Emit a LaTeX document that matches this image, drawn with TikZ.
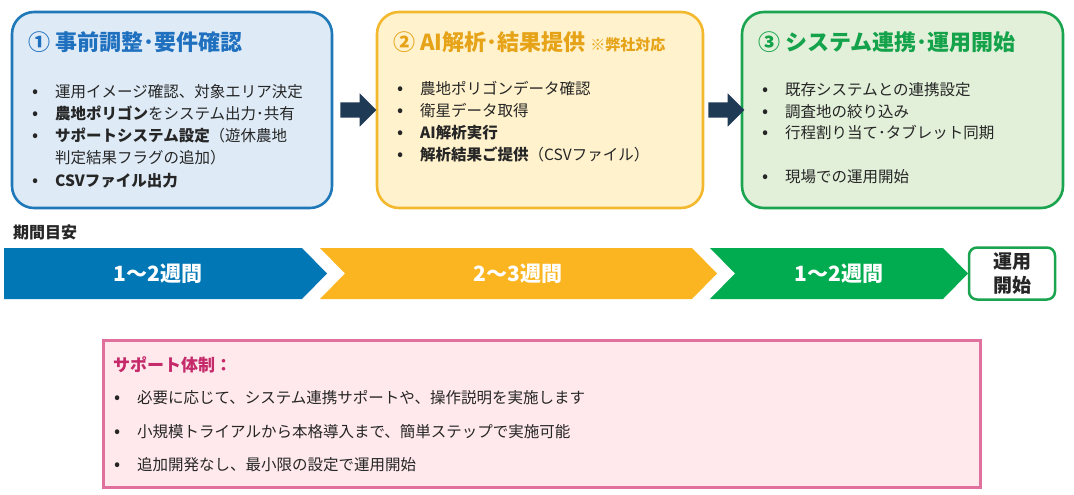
\documentclass[tikz,border=0pt]{standalone}
\usepackage{fontspec}
\setmainfont{Noto Sans CJK JP}
\usetikzlibrary{shapes.arrows,calc}

\definecolor{txt}{HTML}{262626}
\definecolor{blueline}{HTML}{1F78B8}
\definecolor{bluefill}{HTML}{DEEBF7}
\definecolor{bluetitle}{HTML}{1F70BF}
\definecolor{bluebar}{HTML}{0277B6}
\definecolor{goldline}{HTML}{F3B82E}
\definecolor{goldfill}{HTML}{FFF2CC}
\definecolor{goldtitle}{HTML}{E6A317}
\definecolor{goldbar}{HTML}{FBB521}
\definecolor{greenline}{HTML}{1BA44F}
\definecolor{greenfill}{HTML}{E2F0D9}
\definecolor{greentitle}{HTML}{14A24A}
\definecolor{greenbar}{HTML}{00AC4F}
\definecolor{navy}{HTML}{1F3A55}
\definecolor{pinkline}{HTML}{E0719C}
\definecolor{pinkfill}{HTML}{FFE9EC}
\definecolor{pinktitle}{HTML}{C52B6B}

\newcommand\itm[1]{\makebox[23pt][l]{\fontsize{18}{15}\selectfont •}#1}

\tikzset{
    stagebox/.style={line width=2.6pt, rounded corners=22pt, minimum height=196pt, inner sep=0pt},
    ttl/.style={anchor=base west, inner sep=0pt, font=\fontsize{22}{24}\selectfont\bfseries},
    item/.style={anchor=base west, inner sep=0pt, text=txt, font=\fontsize{15.5}{18}\selectfont},
    blockarrow/.style={single arrow, fill=navy, minimum height=36pt, inner xsep=0pt, inner ysep=7.5pt,
        single arrow head extend=9pt, single arrow head indent=0pt},
    barlabel/.style={text=white, font=\fontsize{21}{24}\selectfont\bfseries}
}

\begin{document}
\begin{tikzpicture}[x=1pt, y=-1pt]
    \useasboundingbox (0,0) rectangle (1074,495);

    % stage boxes
    \begin{scope}[every node/.style={stagebox}]
        \node[draw=blueline, fill=bluefill, minimum width=320pt] (s1) at (172,110) {};
        \node[draw=goldline, fill=goldfill, minimum width=326pt] (s2) at (540,110) {};
        \node[draw=greenline, fill=greenfill, minimum width=321pt] (s3) at (902.5,110) {};
    \end{scope}
    \node[blockarrow] (a1) at ($(s1.east)!0.5!(s2.west)$) {};
    \node[blockarrow] (a2) at ($(s2.east)!0.5!(s3.west)$) {};

    % titles
    \node[ttl, text=bluetitle] (t1) at (28,51) {① 事前調整･要件確認};
    \node[ttl, text=goldtitle] (t2) at (393,51) {② AI解析･結果提供 {\fontsize{15}{15}\selectfont ※弊社対応}};
    \node[ttl, text=greentitle] (t3) at (758,51) {③ システム連携･運用開始};

    % items
    \foreach \y/\txt [count=\i] in {
        97.5/{\itm{運用イメージ確認、対象エリア決定}},
        119.5/{\itm{\textbf{農地ポリゴン}をシステム出力･共有}},
        141.5/{\itm{\textbf{サポートシステム設定}（遊休農地}},
        163.5/{\hspace*{23pt}判定結果フラグの追加）},
        186.5/{\itm{\textbf{CSVファイル出力}}}}
        \node[item] (b1-\i) at (32,\y) {\txt};
    \foreach \y/\txt [count=\i] in {
        94.5/{\itm{農地ポリゴンデータ確認}},
        116.5/{\itm{衛星データ取得}},
        138.5/{\itm{\textbf{AI解析実行}}},
        160.5/{\itm{\textbf{解析結果ご提供}（CSVファイル）}}}
        \node[item] (b2-\i) at (397,\y) {\txt};
    \foreach \y/\txt [count=\i] in {
        95.5/{\itm{既存システムとの連携設定}},
        117.5/{\itm{調査地の絞り込み}},
        138.5/{\itm{行程割り当て･タブレット同期}},
        182.5/{\itm{現場での運用開始}}}
        \node[item] (b3-\i) at (762,\y) {\txt};

    % period bar
    \node[anchor=base west, inner sep=0pt, text=txt, font=\fontsize{16}{18}\selectfont\bfseries] (period) at (13,238) {期間目安};
    \fill[bluebar] (4,248) -- (302,248) -- (327,273.5) -- (302,299) -- (4,299) -- cycle;
    \fill[goldbar] (320,248) -- (692,248) -- (717,273.5) -- (692,299) -- (320,299) -- (345,273.5) -- cycle;
    \fill[greenbar] (710,248) -- (943,248) -- (968,273.5) -- (943,299) -- (710,299) -- (735,273.5) -- cycle;
    \node[barlabel] (w1) at (158,273.5) {1〜2週間};
    \node[barlabel] (w2) at (518,273.5) {2〜3週間};
    \node[barlabel] (w3) at (839,273.5) {1〜2週間};
    \node[draw=greenline, fill=white, line width=2.5pt, rounded corners=8pt, minimum width=86pt, minimum height=52pt,
        inner sep=0pt, align=center, text=txt, font=\fontsize{19}{24}\selectfont\bfseries] (goal) at (1012,273.5) {運用\\開始};

    % support box
    \node[draw=pinkline, fill=pinkfill, line width=3pt, minimum width=877pt, minimum height=147pt, inner sep=0pt] (support) at (541.5,413.5) {};
    \node[anchor=base west, inner sep=0pt, text=pinktitle, font=\fontsize{17}{20}\selectfont\bfseries] (st) at (113,371) {サポート体制：};
    \foreach \y/\txt [count=\i] in {
        403.5/{必要に応じて、システム連携サポートや、操作説明を実施します},
        437.5/{小規模トライアルから本格導入まで、簡単ステップで実施可能},
        470.5/{追加開発なし、最小限の設定で運用開始}}
        \node[item] (sp-\i) at (114,\y) {\itm{\txt}};
\end{tikzpicture}
\end{document}
